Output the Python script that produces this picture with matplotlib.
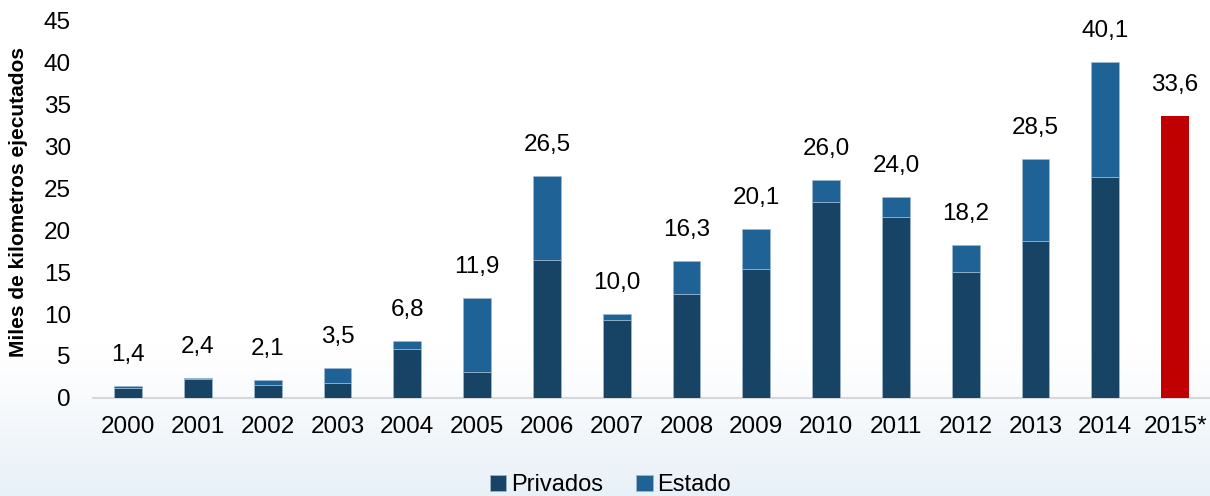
import numpy as np
import matplotlib.pyplot as plt
from matplotlib.colors import LinearSegmentedColormap

plt.switch_backend("agg")
plt.rcParams["font.family"] = ["Liberation Sans", "DejaVu Sans"]

years = ["2000", "2001", "2002", "2003", "2004", "2005", "2006", "2007",
         "2008", "2009", "2010", "2011", "2012", "2013", "2014", "2015*"]
privados = [1.2, 2.2, 1.5, 1.8, 5.8, 3.1, 16.4, 9.3,
            12.4, 15.4, 23.4, 21.6, 15.0, 18.7, 26.3]
estado = [0.2, 0.2, 0.6, 1.7, 1.0, 8.8, 10.1, 0.7,
          3.9, 4.7, 2.6, 2.4, 3.2, 9.8, 13.8]
totals = [1.4, 2.4, 2.1, 3.5, 6.8, 11.9, 26.5, 10.0,
          16.3, 20.1, 26.0, 24.0, 18.2, 28.5, 40.1, 33.6]

C_PRIV = "#174364"
C_EST = "#1f6295"
C_PROY = "#c00000"
FS = 17.5

fig = plt.figure(figsize=(12.1, 4.96), dpi=100)

# faint pale-blue wash along the bottom of the figure
bg = fig.add_axes([0, 0, 1, 1], zorder=-10)
grad = np.linspace(0, 1, 256).reshape(-1, 1)
cmap = LinearSegmentedColormap.from_list(
    "wash", [(0, "#e9f1f8"), (0.12, "#f1f6fa"), (0.22, "#fbfcfe"), (0.3, "#ffffff"), (1, "#ffffff")])
bg.imshow(grad, aspect="auto", cmap=cmap, extent=[0, 1, 0, 1], origin="lower")
bg.axis("off")

ax = fig.add_axes([0.077, 0.198, 0.923, 0.760])
ax.patch.set_alpha(0)

x = np.arange(len(years))
n = len(privados)
w = 0.4
ax.bar(x[:n], privados, width=w, color=C_PRIV, edgecolor="#9fb9d0", linewidth=0.5,
       label="Privados", zorder=3)
ax.bar(x[:n], estado, width=w, bottom=privados, color=C_EST, edgecolor="#9fb9d0",
       linewidth=0.5, label="Estado", zorder=3)
ax.bar(x[n:], totals[n:], width=w, color=C_PROY, zorder=3)

for xi, t in zip(x, totals):
    ax.annotate(f"{t:.1f}".replace(".", ","), xy=(xi, t), xytext=(0, 18),
                textcoords="offset points", ha="center", va="baseline", fontsize=FS)

ax.set_xlim(-0.5, len(years) - 0.5)
ax.set_ylim(0, 45)
ax.set_yticks(range(0, 46, 5))
ax.set_xticks(x)
ax.set_xticklabels(years)
ax.tick_params(axis="both", length=0, labelsize=FS)
ax.tick_params(axis="y", pad=16)
ax.tick_params(axis="x", pad=13)

for side in ("top", "right", "left"):
    ax.spines[side].set_visible(False)
ax.spines["bottom"].set_color("#d6d9dc")
ax.spines["bottom"].set_linewidth(1.5)

ax.set_ylabel("Miles de kilometros ejecutados", fontsize=15, fontweight="bold")
ax.yaxis.set_label_coords(-0.058, 0.52)

ax.legend(loc="center", bbox_to_anchor=(0.463, -0.232), ncol=2, frameon=False,
          fontsize=17, handlelength=0.7, handleheight=0.7, handletextpad=0.2,
          columnspacing=1.4, borderaxespad=0)

fig.savefig("out.png", dpi=100)
